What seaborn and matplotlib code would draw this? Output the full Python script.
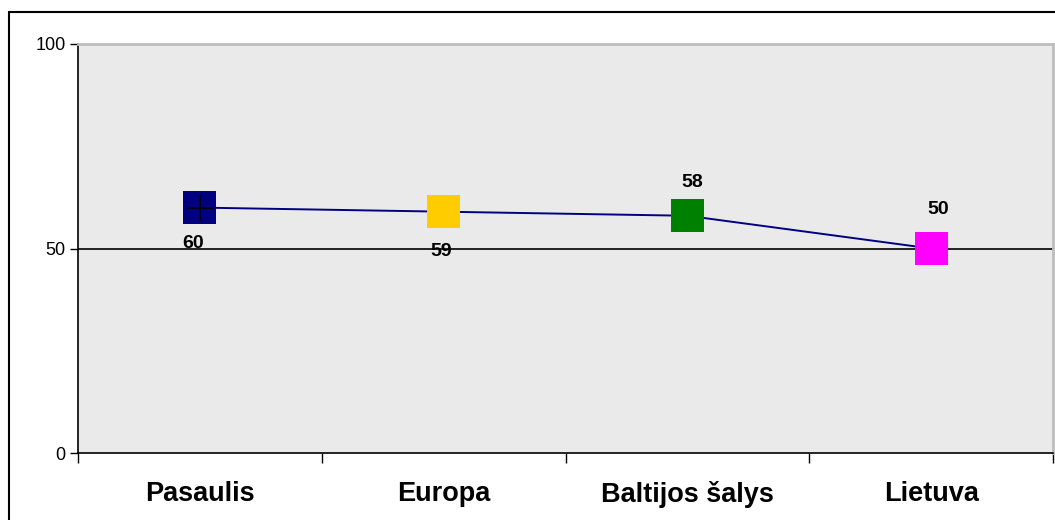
import matplotlib
matplotlib.use("Agg")
import matplotlib.pyplot as plt
import seaborn as sns
import pandas as pd
from matplotlib.patches import Rectangle
from matplotlib.ticker import FixedLocator

categories = ["Pasaulis", "Europa", "Baltijos šalys", "Lietuva"]
values = [60, 59, 58, 50]
colors = ["#000080", "#FFCC00", "#008000", "#FF00FF"]
yticks = [0, 50, 100]
# label offsets in pixels (dx, dy) relative to each point
label_offsets = [(-7, -36), (-2, -40), (5, 33), (7, 39)]

sns.set_theme(style="white")
plt.rcParams["font.family"] = ["Liberation Sans", "DejaVu Sans"]
plt.rcParams["text.color"] = "black"
plt.rcParams["xtick.color"] = "black"
plt.rcParams["ytick.color"] = "black"

df = pd.DataFrame({"pos": range(len(categories)), "value": values, "cat": categories})

fig = plt.figure(figsize=(10.55, 5.2), dpi=100)
ax = fig.add_axes([78 / 1055, 1 - 453 / 520, 975 / 1055, 409 / 520])
ax.set_facecolor("#EAEAEA")

sns.lineplot(data=df, x="pos", y="value", color="#000080", linewidth=1.4, ax=ax, zorder=3)
sns.scatterplot(data=df, x="pos", y="value", hue="cat", palette=colors, marker="s",
                s=565, linewidth=0, legend=False, ax=ax, zorder=4)
ax.scatter([0], [values[0]], marker="+", s=340, color="black", linewidths=1.3, zorder=5)

ax.axhline(50, color="black", linewidth=1.2, zorder=2)

for i, (v, (dx, dy)) in enumerate(zip(values, label_offsets)):
    ax.annotate(str(v), (i, v), xytext=(dx, dy), textcoords="offset pixels",
                ha="center", va="center", fontsize=14, fontweight="bold", color="black")

ax.set_xlim(-0.5, len(categories) - 0.5)
ax.set_ylim(0, 100)
ax.set_yticks(yticks)
ax.set_yticklabels([str(t) for t in yticks], fontsize=13, color="black")
ax.set_xticks(range(len(categories)))
ax.set_xticklabels(categories, fontsize=19.5, fontweight="bold", color="black")
ax.xaxis.set_minor_locator(FixedLocator([i - 0.5 for i in range(len(categories) + 1)]))
ax.tick_params(axis="x", which="major", length=0, pad=20)
ax.tick_params(axis="x", which="minor", length=7, width=1, color="black", direction="out", bottom=True)
ax.tick_params(axis="y", length=6, width=1, color="black", direction="out", left=True, pad=3)
ax.set_xlabel("")
ax.set_ylabel("")

for side in ["left", "bottom"]:
    ax.spines[side].set_color("black")
    ax.spines[side].set_linewidth(1.2)
for side in ["top", "right"]:
    ax.spines[side].set_color("#BDBDBD")
    ax.spines[side].set_linewidth(2)

# outer chart frame
fig.patches.append(Rectangle((9 / 1055, -0.05), 1.1, (520 - 12) / 520 + 0.05,
                             transform=fig.transFigure, fill=False,
                             edgecolor="black", linewidth=1.5, zorder=0))

fig.savefig("out.png", dpi=100)
